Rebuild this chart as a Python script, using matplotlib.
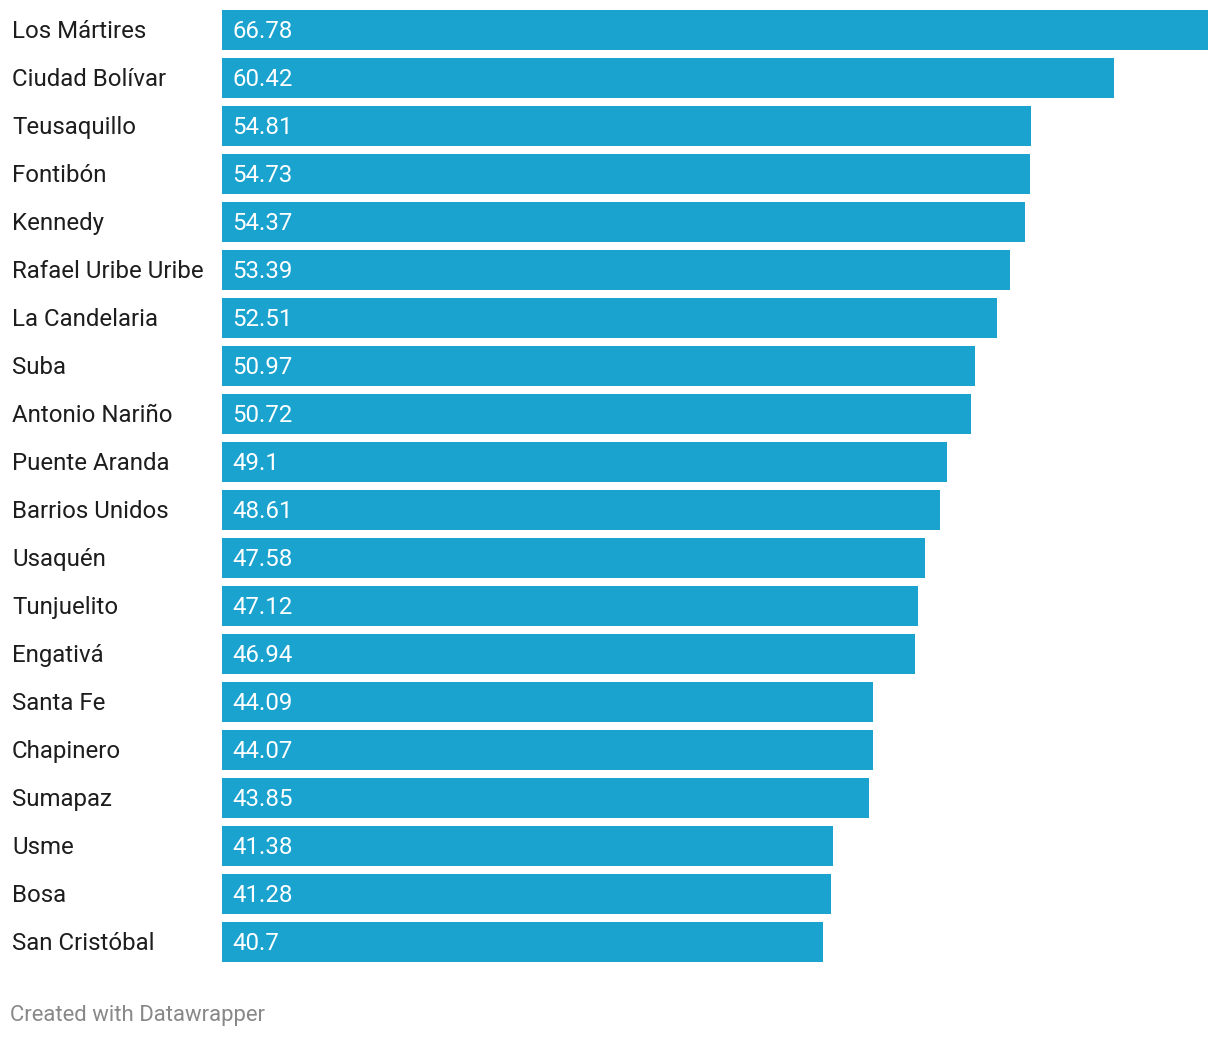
import matplotlib.pyplot as plt

districts = ["Los Mártires", "Ciudad Bolívar", "Teusaquillo", "Fontibón", "Kennedy",
             "Rafael Uribe Uribe", "La Candelaria", "Suba", "Antonio Nariño",
             "Puente Aranda", "Barrios Unidos", "Usaquén", "Tunjuelito", "Engativá",
             "Santa Fe", "Chapinero", "Sumapaz", "Usme", "Bosa", "San Cristóbal"]
values = [66.78, 60.42, 54.81, 54.73, 54.37, 53.39, 52.51, 50.97, 50.72, 49.1,
          48.61, 47.58, 47.12, 46.94, 44.09, 44.07, 43.85, 41.38, 41.28, 40.7]
value_labels = ["66.78", "60.42", "54.81", "54.73", "54.37", "53.39", "52.51", "50.97",
                "50.72", "49.1", "48.61", "47.58", "47.12", "46.94", "44.09", "44.07",
                "43.85", "41.38", "41.28", "40.7"]

plt.rcParams["font.family"] = ["Roboto", "DejaVu Sans"]

W, H = 1220, 1038
fig = plt.figure(figsize=(W / 100, H / 100), dpi=100)
ax = fig.add_axes([222 / W, 1 - 962 / H, (1208 - 222) / W, 952 / H])

h = 40 / 48
ypos = list(range(len(values)))
ax.barh(ypos, values, height=h, color="#1aa3cf", left=0)
ax.set_xlim(0, max(values))
ax.set_ylim(len(values) - 1 + h / 2, -h / 2)
ax.axis("off")

# text sits on a baseline ~8px below the bar centre
px = max(values) / (1208 - 222)
dy = 8 / 48
for y, v, lab, name in zip(ypos, values, value_labels, districts):
    ax.text(10 * px, y + dy, lab, color="white", fontsize=17.3, va="baseline", ha="left")
    ax.text(-210 * px, y + dy, name, color="#1d1d1d", fontsize=17.3, va="baseline", ha="left")

fig.text(10 / W, 1 - 1021 / H, "Created with Datawrapper", color="#888888",
         fontsize=15.9, va="baseline", ha="left")

fig.savefig("out.png", dpi=100, facecolor="white")
